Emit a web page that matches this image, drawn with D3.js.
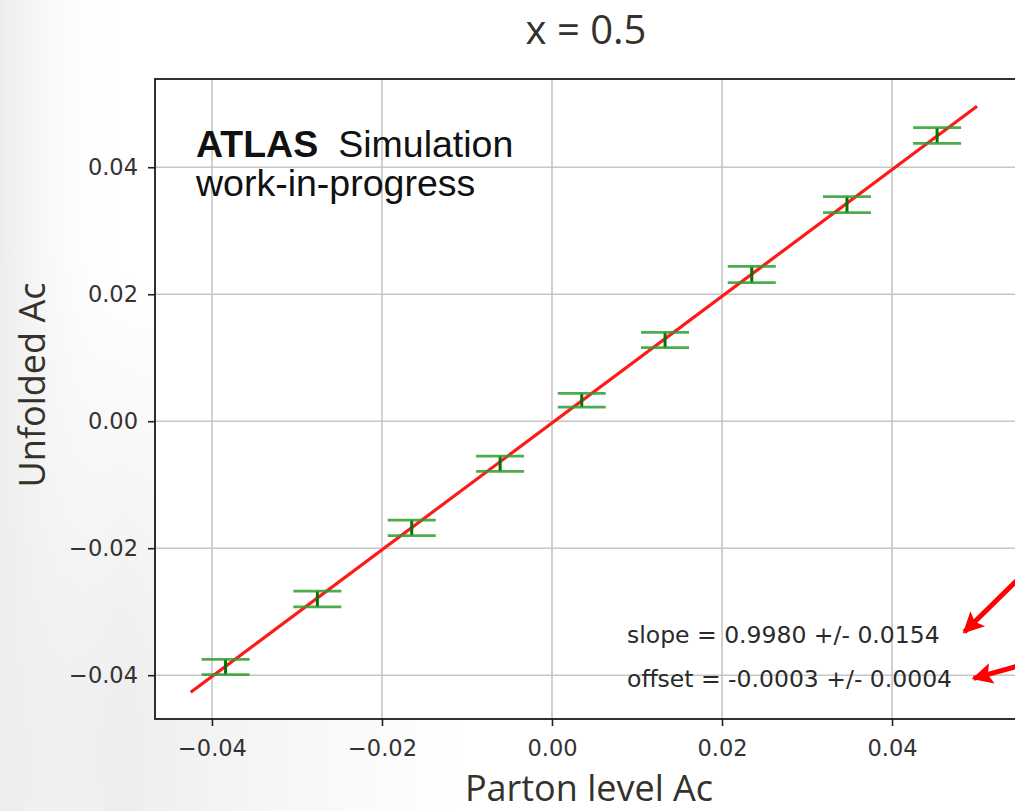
<!DOCTYPE html>
<html>
<head>
<meta charset="utf-8">
<script src="https://cdn.jsdelivr.net/npm/d3@7"></script>
<style>
  html, body { margin: 0; padding: 0; background: #fff; }
  svg { display: block; }
</style>
</head>
<body>
<div id="chart"></div>
<script>
// values
var partonAc   = [-0.0384, -0.0276, -0.0165, -0.0061, 0.0035, 0.0133, 0.0235, 0.0347, 0.0453];
var unfoldedAc = [-0.0387, -0.0280, -0.0168, -0.0067, 0.0033, 0.0128, 0.0231, 0.0341, 0.0450];
var unfoldedErr = [0.0012, 0.00125, 0.00122, 0.0012, 0.00108, 0.0012, 0.00128, 0.00126, 0.00123];
var fitLine = [[-0.0425, -0.0427], [0.05, 0.0496]];
var xTicks = [-0.04, -0.02, 0.00, 0.02, 0.04];
var yTicks = [-0.04, -0.02, 0.00, 0.02, 0.04];
var fitTexts = ["slope = 0.9980 +/- 0.0154", "offset = -0.0003 +/- 0.0004"];
// arrows pointing at the fit results (data coords: [from, to])
var arrows = [
    [[0.0552, -0.0244], [0.0485, -0.0332]],
    [[0.0552, -0.0384], [0.0496, -0.0405]]
];

var W = 1015, H = 811;
var margin = {left: 155, top: 79, right: 1017, bottom: 719};

var svg = d3.select("#chart").append("svg")
    .attr("width", W).attr("height", H);

// slide background, grey towards the lower left
var defs = svg.append("defs");
var grad = defs.append("radialGradient").attr("id", "bg")
    .attr("gradientUnits", "userSpaceOnUse")
    .attr("cx", -60).attr("cy", 760).attr("r", 520);
grad.append("stop").attr("offset", "0").attr("stop-color", "#e2e2e2");
grad.append("stop").attr("offset", "0.55").attr("stop-color", "#f4f4f4");
grad.append("stop").attr("offset", "1").attr("stop-color", "#ffffff");
var grad2 = defs.append("linearGradient").attr("id", "bgl")
    .attr("x1", 0).attr("x2", 1).attr("y1", 0).attr("y2", 0);
grad2.append("stop").attr("offset", "0").attr("stop-color", "#ededed").attr("stop-opacity", 1);
grad2.append("stop").attr("offset", "0.12").attr("stop-color", "#ffffff").attr("stop-opacity", 0);

svg.append("rect").attr("width", W).attr("height", H).attr("fill", "#fff");
svg.append("rect").attr("width", W).attr("height", H).attr("fill", "url(#bg)");
svg.append("rect").attr("width", W).attr("height", H).attr("fill", "url(#bgl)");

defs.append("clipPath").attr("id", "plotclip").append("rect")
    .attr("x", margin.left).attr("y", margin.top)
    .attr("width", margin.right - margin.left).attr("height", margin.bottom - margin.top);

var x = d3.scaleLinear().domain([-0.0467, 0.0547]).range([margin.left, margin.right]);
var y = d3.scaleLinear().domain([-0.0469, 0.0539]).range([margin.bottom, margin.top]);

svg.append("rect")
    .attr("x", margin.left).attr("y", margin.top)
    .attr("width", margin.right - margin.left).attr("height", margin.bottom - margin.top)
    .attr("fill", "#fff");

// grid
var grid = svg.append("g").attr("clip-path", "url(#plotclip)");
grid.selectAll("line.gx").data(xTicks).enter().append("line")
    .attr("x1", d => x(d)).attr("x2", d => x(d))
    .attr("y1", margin.top).attr("y2", margin.bottom)
    .attr("stroke", "#c6c6c6").attr("stroke-width", 1.6);
grid.selectAll("line.gy").data(yTicks).enter().append("line")
    .attr("y1", d => y(d)).attr("y2", d => y(d))
    .attr("x1", margin.left).attr("x2", margin.right)
    .attr("stroke", "#c6c6c6").attr("stroke-width", 1.6);

// ATLAS label
var atlas = svg.append("text")
    .attr("x", 196).attr("y", 157)
    .style("font-family", "'Liberation Sans', Arial, sans-serif")
    .style("font-size", "37.5px").attr("fill", "#111");
atlas.append("tspan").style("font-weight", "bold").text("ATLAS");
atlas.append("tspan").attr("dx", 20).text("Simulation");
svg.append("text")
    .attr("x", 196).attr("y", 196)
    .style("font-family", "'Liberation Sans', Arial, sans-serif")
    .style("font-size", "37.5px").attr("fill", "#111")
    .text("work-in-progress");

var plot = svg.append("g").attr("clip-path", "url(#plotclip)");

// fit line
plot.append("path")
    .datum(fitLine)
    .attr("d", d3.line().x(d => x(d[0])).y(d => y(d[1])))
    .attr("stroke", "#ff1a1a").attr("stroke-width", 3.2).attr("fill", "none");

// error bars
var pts = partonAc.map((d, i) => ({x: d, y: unfoldedAc[i], e: unfoldedErr[i]}));
var eb = plot.selectAll("g.eb").data(pts).enter().append("g");
eb.append("line")
    .attr("x1", d => x(d.x)).attr("x2", d => x(d.x))
    .attr("y1", d => y(d.y - d.e)).attr("y2", d => y(d.y + d.e))
    .attr("stroke", "#067006").attr("stroke-width", 3);
[-1, 1].forEach(function (s) {
    eb.append("line")
        .attr("x1", d => x(d.x) - 24).attr("x2", d => x(d.x) + 24)
        .attr("y1", d => y(d.y + s * d.e)).attr("y2", d => y(d.y + s * d.e))
        .attr("stroke", "#2e9e2e").attr("stroke-opacity", 0.85).attr("stroke-width", 2.8);
});

// fit result texts
svg.selectAll("text.fit").data(fitTexts).enter().append("text")
    .attr("x", 627).attr("y", (d, i) => 643 + i * 44)
    .style("font-family", "'DejaVu Sans', sans-serif")
    .style("font-size", "23.5px").attr("fill", "#2a2a2a")
    .text(d => d);

// axes
var fmt = d3.format(".2f");
var xAxis = svg.append("g").attr("transform", "translate(0," + margin.bottom + ")")
    .call(d3.axisBottom(x).tickValues(xTicks).tickFormat(fmt).tickSize(7).tickPadding(14));
var yAxis = svg.append("g").attr("transform", "translate(" + margin.left + ",0)")
    .call(d3.axisLeft(y).tickValues(yTicks).tickFormat(fmt).tickSize(7).tickPadding(10));
[xAxis, yAxis].forEach(function (a) {
    a.select(".domain").remove();
    a.selectAll(".tick line").attr("stroke", "#222").attr("stroke-width", 1.6);
    a.selectAll(".tick text")
        .style("font-family", "'DejaVu Sans', sans-serif")
        .style("font-size", "22.5px").attr("fill", "#333");
});

// spines
svg.append("rect")
    .attr("x", margin.left).attr("y", margin.top)
    .attr("width", margin.right - margin.left).attr("height", margin.bottom - margin.top)
    .attr("fill", "none").attr("stroke", "#1a1a1a").attr("stroke-width", 1.8);

// titles
svg.append("text")
    .attr("x", 586).attr("y", 44).attr("text-anchor", "middle")
    .style("font-family", "'Open Sans', sans-serif").style("font-size", "40px")
    .attr("fill", "#35312b").text("x = 0.5");
svg.append("text")
    .attr("x", 589).attr("y", 801).attr("text-anchor", "middle")
    .style("font-family", "'Open Sans', sans-serif").style("font-size", "36px")
    .attr("fill", "#35312b").text("Parton level Ac");
svg.append("text")
    .attr("transform", "translate(45,385) rotate(-90)").attr("text-anchor", "middle")
    .style("font-family", "'Open Sans', sans-serif").style("font-size", "36px")
    .attr("fill", "#35312b").text("Unfolded Ac");

// red arrows
defs.append("marker").attr("id", "head")
    .attr("viewBox", "0 0 10 10").attr("refX", 9).attr("refY", 5)
    .attr("markerUnits", "userSpaceOnUse")
    .attr("markerWidth", 27).attr("markerHeight", 21).attr("orient", "auto")
    .append("path").attr("d", "M0,0 L10,5 L0,10 L2,5 Z").attr("fill", "#ff0000");
svg.selectAll("line.arrow").data(arrows).enter().append("line")
    .attr("x1", d => x(d[0][0])).attr("y1", d => y(d[0][1]))
    .attr("x2", d => x(d[1][0])).attr("y2", d => y(d[1][1]))
    .attr("stroke", "#ff0000").attr("stroke-width", 5)
    .attr("marker-end", "url(#head)");
</script>
</body>
</html>
